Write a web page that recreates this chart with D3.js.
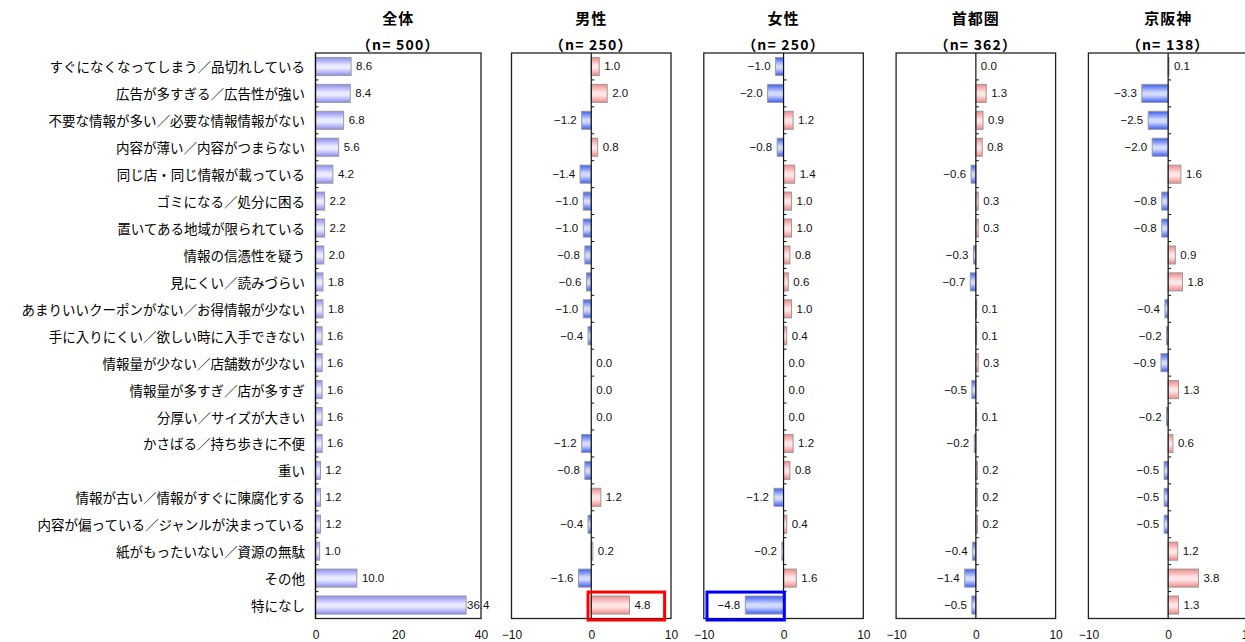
<!DOCTYPE html>
<html>
<head>
<meta charset="utf-8">
<script src="https://cdn.jsdelivr.net/npm/d3@7"></script>
<style>
  body { margin: 0; background: #fff; }
  text { font-family: "Liberation Sans", Arial, sans-serif; }
  .jp { font-family: "Noto Sans CJK JP", sans-serif; }
</style>
</head>
<body>
<svg id="chart" width="1245" height="642"></svg>
<script>
// ---- data ----
const categories = [
  "すぐになくなってしまう／品切れしている",
  "広告が多すぎる／広告性が強い",
  "不要な情報が多い／必要な情報情報がない",
  "内容が薄い／内容がつまらない",
  "同じ店・同じ情報が載っている",
  "ゴミになる／処分に困る",
  "置いてある地域が限られている",
  "情報の信憑性を疑う",
  "見にくい／読みづらい",
  "あまりいいクーポンがない／お得情報が少ない",
  "手に入りにくい／欲しい時に入手できない",
  "情報量が少ない／店舗数が少ない",
  "情報量が多すぎ／店が多すぎ",
  "分厚い／サイズが大きい",
  "かさばる／持ち歩きに不便",
  "重い",
  "情報が古い／情報がすぐに陳腐化する",
  "内容が偏っている／ジャンルが決まっている",
  "紙がもったいない／資源の無駄",
  "その他",
  "特になし"
];
const panelNames = ["全体", "男性", "女性", "首都圏", "京阪神"];
const panelN = [500, 250, 250, 362, 138];

const total    = [8.6, 8.4, 6.8, 5.6, 4.2, 2.2, 2.2, 2.0, 1.8, 1.8, 1.6, 1.6, 1.6, 1.6, 1.6, 1.2, 1.2, 1.2, 1.0, 10.0, 36.4];
const male     = [1.0, 2.0, -1.2, 0.8, -1.4, -1.0, -1.0, -0.8, -0.6, -1.0, -0.4, 0.0, 0.0, 0.0, -1.2, -0.8, 1.2, -0.4, 0.2, -1.6, 4.8];
const female   = [-1.0, -2.0, 1.2, -0.8, 1.4, 1.0, 1.0, 0.8, 0.6, 1.0, 0.4, 0.0, 0.0, 0.0, 1.2, 0.8, -1.2, 0.4, -0.2, 1.6, -4.8];
const tokyo    = [0.0, 1.3, 0.9, 0.8, -0.6, 0.3, 0.3, -0.3, -0.7, 0.1, 0.1, 0.3, -0.5, 0.1, -0.2, 0.2, 0.2, 0.2, -0.4, -1.4, -0.5];
const keihanshin = [0.1, -3.3, -2.5, -2.0, 1.6, -0.8, -0.8, 0.9, 1.8, -0.4, -0.2, -0.9, 1.3, -0.2, 0.6, -0.5, -0.5, -0.5, 1.2, 3.8, 1.3];

const totalTicks = [0, 20, 40];
const diffTicks = [-10, 0, 10];

// highlight boxes: panel index, category, value extent
const highlights = [
  { panel: 1, cat: "特になし", from: -0.4, to: 9.2, color: "#ff0000" },
  { panel: 2, cat: "特になし", from: -9.6, to: 0.1, color: "#0000ff" }
];

// ---- layout ----
const svg = d3.select("#chart");
const plotTop = 53, plotBottom = 618.5;
const y = d3.scaleBand().domain(categories).range([plotTop, plotBottom]).paddingInner(0.33).paddingOuter(0.165);
const rowStep = (plotBottom - plotTop) / categories.length;

const defs = svg.append("defs");
function grad(id, edge, mid) {
  const g = defs.append("linearGradient").attr("id", id)
    .attr("x1", 0).attr("y1", 0).attr("x2", 0).attr("y2", 1);
  g.append("stop").attr("offset", "0%").attr("stop-color", edge);
  g.append("stop").attr("offset", "45%").attr("stop-color", mid);
  g.append("stop").attr("offset", "60%").attr("stop-color", mid);
  g.append("stop").attr("offset", "100%").attr("stop-color", edge);
}
grad("gPurple", "#8c8cf0", "#ebebff");
grad("gRed", "#f08a8a", "#ffe6e6");
grad("gBlue", "#3c5ef2", "#d2daff");

const fmt = d3.format(".1f");

const panels = [
  { values: total, domain: [0, 40], range: [315.5, 481], ticks: totalTicks },
  { values: male, domain: [-10, 10], range: [511.5, 671], ticks: diffTicks },
  { values: female, domain: [-10, 10], range: [703.8, 863.3], ticks: diffTicks },
  { values: tokyo, domain: [-10, 10], range: [896.1, 1055.6], ticks: diffTicks },
  { values: keihanshin, domain: [-10, 10], range: [1088.4, 1247.9], ticks: diffTicks }
];

// category labels
svg.append("g").selectAll("text").data(categories).join("text")
  .attr("class", "jp")
  .attr("x", 305)
  .attr("y", d => y(d) + y.bandwidth() / 2)
  .attr("text-anchor", "end")
  .attr("dominant-baseline", "central")
  .attr("font-size", 13.5)
  .attr("fill", "#000")
  .text(d => d);

panels.forEach((p, pi) => {
  const x = d3.scaleLinear().domain(p.domain).range(p.range);
  const g = svg.append("g");
  const cx = (p.range[0] + p.range[1]) / 2;

  // titles
  g.append("text").attr("class", "jp").attr("x", cx).attr("y", 17)
    .attr("text-anchor", "middle").attr("dominant-baseline", "central")
    .attr("font-size", 15).attr("font-weight", "bold").attr("letter-spacing", 1)
    .text(panelNames[pi]);
  g.append("text").attr("class", "jp").attr("x", cx).attr("y", 44)
    .attr("text-anchor", "middle").attr("dominant-baseline", "central")
    .attr("font-size", 14).attr("font-weight", "bold").attr("letter-spacing", 1.2)
    .text("（n= " + panelN[pi] + "）");

  const data = categories.map((c, i) => ({ cat: c, v: p.values[i] }));

  // bars
  g.selectAll("rect.bar").data(data).join("rect")
    .attr("class", "bar")
    .attr("x", d => x(Math.min(0, d.v)))
    .attr("y", d => y(d.cat))
    .attr("width", d => Math.abs(x(d.v) - x(0)))
    .attr("height", y.bandwidth())
    .attr("fill", d => pi === 0 ? "url(#gPurple)" : (d.v >= 0 ? "url(#gRed)" : "url(#gBlue)"))
    .attr("stroke", d => d.v === 0 ? "none" : "#9a9a9a")
    .attr("stroke-width", 1);

  // value labels
  g.selectAll("text.val").data(data).join("text")
    .attr("class", "val")
    .attr("x", d => d.v < 0 ? x(d.v) - 5 : Math.min(x(d.v) + 5, p.range[1] - 14))
    .attr("y", d => y(d.cat) + y.bandwidth() / 2)
    .attr("text-anchor", d => d.v < 0 ? "end" : "start")
    .attr("dominant-baseline", "central")
    .attr("font-size", 11.5)
    .attr("fill", "#111")
    .text(d => fmt(d.v));

  // plot frame
  g.append("rect")
    .attr("x", p.range[0]).attr("y", plotTop)
    .attr("width", p.range[1] - p.range[0]).attr("height", plotBottom - plotTop)
    .attr("fill", "none").attr("stroke", "#222").attr("stroke-width", 1.3);

  // category axis at zero with inward ticks
  const x0 = x(0);
  g.append("line").attr("x1", x0).attr("x2", x0).attr("y1", plotTop).attr("y2", plotBottom)
    .attr("stroke", "#111").attr("stroke-width", 1.2);
  g.selectAll("line.ctick").data(d3.range(1, categories.length)).join("line")
    .attr("class", "ctick")
    .attr("x1", x0).attr("x2", x0 + 3)
    .attr("y1", i => plotTop + i * rowStep).attr("y2", i => plotTop + i * rowStep)
    .attr("stroke", "#111");

  // bottom value axis (labels only)
  const axis = d3.axisBottom(x).tickValues(p.ticks).tickSize(0).tickPadding(12)
    .tickFormat(d3.format("d"));
  const ax = g.append("g").attr("transform", `translate(0,${plotBottom})`).call(axis);
  ax.select(".domain").remove();
  ax.selectAll("text").attr("font-size", 12).attr("fill", "#111")
    .attr("font-family", "Liberation Sans, Arial, sans-serif");
});

// highlight boxes
highlights.forEach(h => {
  const p = panels[h.panel];
  const x = d3.scaleLinear().domain(p.domain).range(p.range);
  const i = categories.indexOf(h.cat);
  svg.append("rect")
    .attr("x", x(h.from)).attr("y", plotTop + i * rowStep + 0.5)
    .attr("width", x(h.to) - x(h.from)).attr("height", rowStep + 1)
    .attr("fill", "none").attr("stroke", h.color).attr("stroke-width", 3);
});
</script>
</body>
</html>
